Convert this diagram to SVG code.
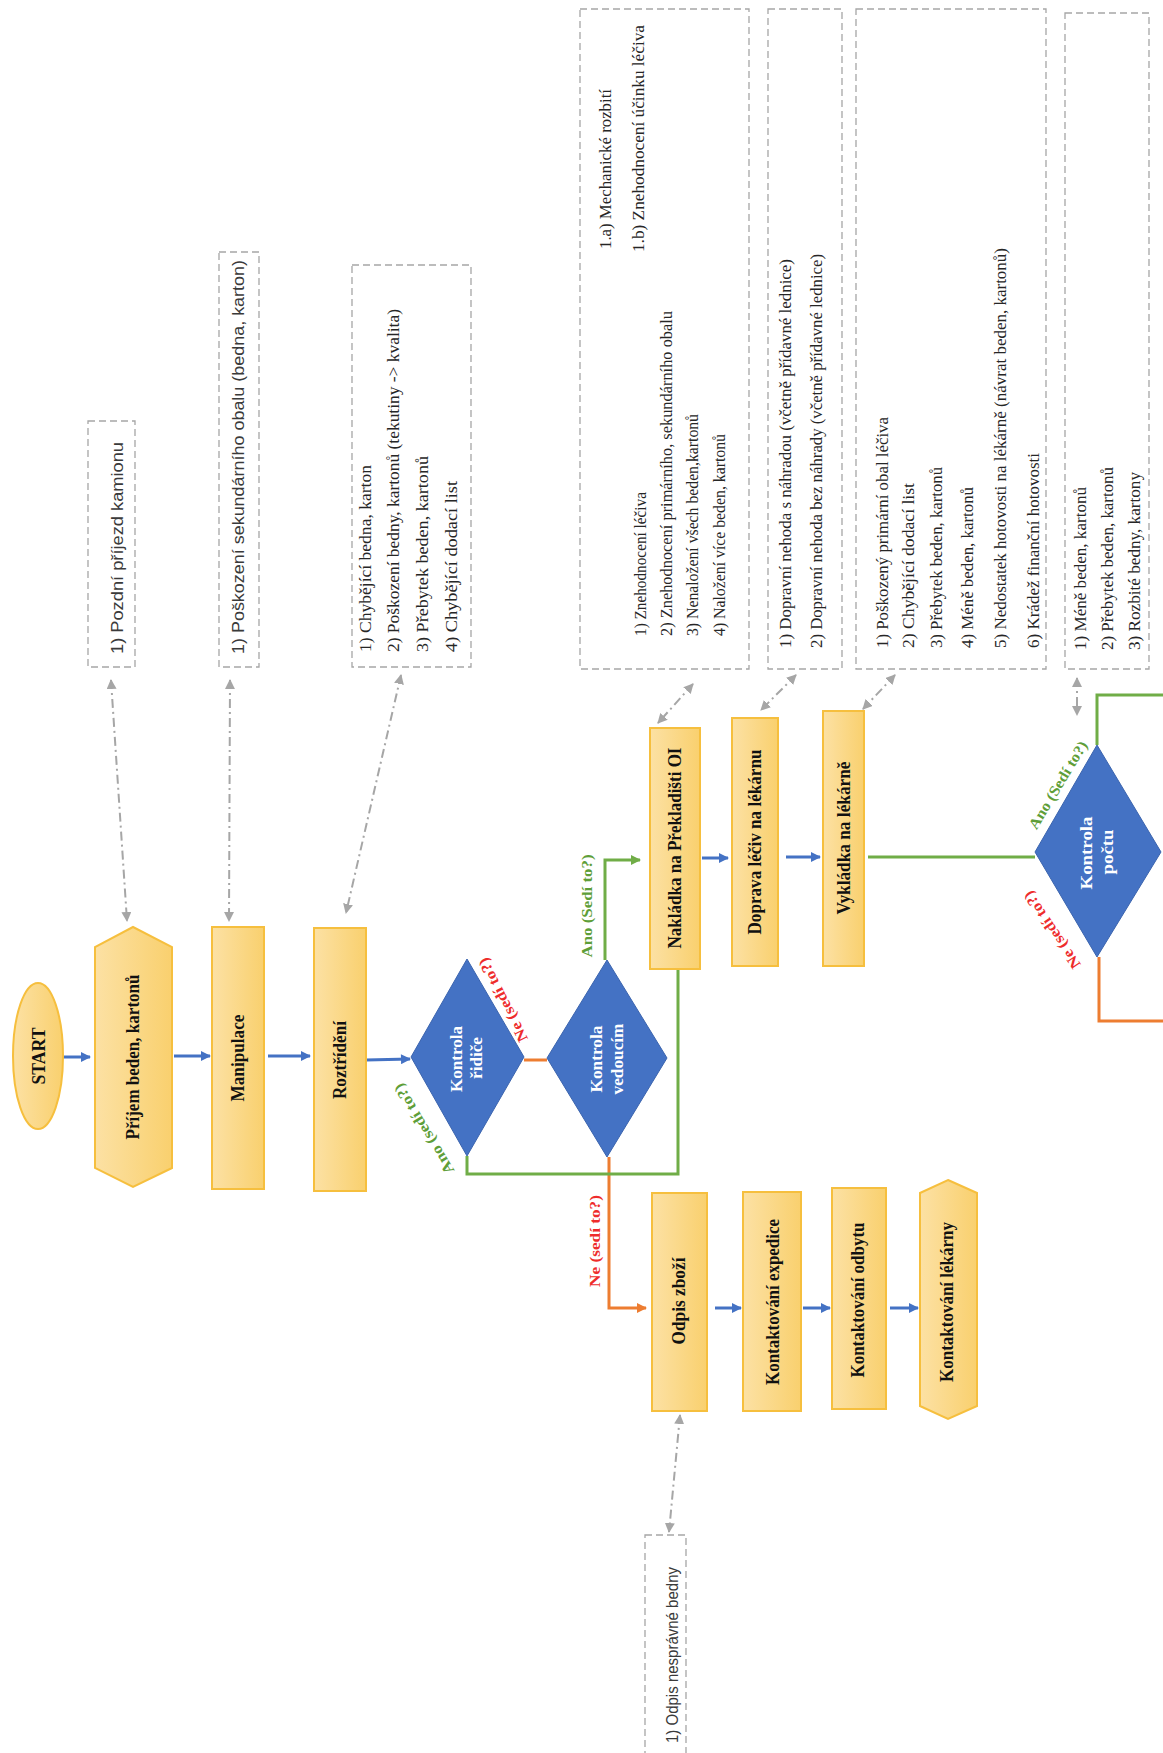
<svg xmlns="http://www.w3.org/2000/svg" width="1163" height="1753" viewBox="0 0 1163 1753">
<defs>
<linearGradient id="gy" x1="0" y1="0" x2="1" y2="0">
<stop offset="0" stop-color="#FCE1A4"/>
<stop offset="1" stop-color="#F9D06E"/>
</linearGradient>
<marker id="mb" viewBox="0 0 10 10" refX="9" refY="5" markerWidth="11" markerHeight="10" orient="auto-start-reverse" markerUnits="userSpaceOnUse"><path d="M0,0 L10,5 L0,10 z" fill="#4472C4"/></marker>
<marker id="mg" viewBox="0 0 10 10" refX="9" refY="5" markerWidth="11" markerHeight="10" orient="auto-start-reverse" markerUnits="userSpaceOnUse"><path d="M0,0 L10,5 L0,10 z" fill="#70AD47"/></marker>
<marker id="mo" viewBox="0 0 10 10" refX="9" refY="5" markerWidth="11" markerHeight="10" orient="auto-start-reverse" markerUnits="userSpaceOnUse"><path d="M0,0 L10,5 L0,10 z" fill="#ED7D31"/></marker>
<marker id="mgr" viewBox="0 0 10 10" refX="9" refY="5" markerWidth="10" markerHeight="10" orient="auto-start-reverse" markerUnits="userSpaceOnUse"><path d="M0,0 L10,5 L0,10 z" fill="#A6A6A6"/></marker>
</defs>
<style>
.nd{fill:url(#gy);stroke:#F6BF3E;stroke-width:2}
.dm{fill:#4472C4;stroke:#3B64AE;stroke-width:1}
.lb{font-family:"Liberation Serif",serif;font-weight:bold;font-size:18px;fill:#111;text-anchor:middle;dominant-baseline:central}
.wl{font-family:"Liberation Serif",serif;font-weight:bold;font-size:17px;fill:#fff;text-anchor:middle;dominant-baseline:central}
.bx{fill:none;stroke:#A6A6A6;stroke-width:1.3;stroke-dasharray:7 4}
.tx{font-family:"Liberation Serif",serif;font-size:17.5px;fill:#262626;dominant-baseline:central}
.ts{font-family:"Liberation Sans",sans-serif;font-size:16px;fill:#3a3a3a;dominant-baseline:central}
.eg{font-family:"Liberation Serif",serif;font-weight:bold;font-size:15px;fill:#5E9E38;text-anchor:middle;dominant-baseline:central}
.er{font-family:"Liberation Serif",serif;font-weight:bold;font-size:15px;fill:#EE2C2C;text-anchor:middle;dominant-baseline:central}
.cb{fill:none;stroke:#4472C4;stroke-width:3}
.cg{fill:none;stroke:#70AD47;stroke-width:3}
.co{fill:none;stroke:#ED7D31;stroke-width:3}
.cd{fill:none;stroke:#A6A6A6;stroke-width:2;stroke-dasharray:9 4 2 4}
</style>

<g id="connectors">
<line class="cb" x1="63" y1="1057" x2="90" y2="1057" marker-end="url(#mb)"/>
<line class="cb" x1="174" y1="1056" x2="210" y2="1056" marker-end="url(#mb)"/>
<line class="cb" x1="268" y1="1056" x2="310" y2="1056" marker-end="url(#mb)"/>
<line class="cb" x1="366" y1="1060" x2="410" y2="1059" marker-end="url(#mb)"/>
<line class="cb" x1="702" y1="858" x2="728" y2="858" marker-end="url(#mb)"/>
<line class="cb" x1="786" y1="857" x2="820" y2="857" marker-end="url(#mb)"/>
<line class="cb" x1="715" y1="1308" x2="741" y2="1308" marker-end="url(#mb)"/>
<line class="cb" x1="803" y1="1308" x2="830" y2="1308" marker-end="url(#mb)"/>
<line class="cb" x1="890" y1="1308" x2="918" y2="1308" marker-end="url(#mb)"/>
<line class="co" x1="524" y1="1060" x2="547" y2="1060"/>
<polyline class="co" points="609,1157 609,1308 646,1308" marker-end="url(#mo)"/>
<polyline class="co" points="1099,957 1099,1021 1163,1021"/>
<polyline class="cg" points="467,1156 467,1174 678,1174 678,969"/>
<polyline class="cg" points="605,960 605,860 640,860" marker-end="url(#mg)"/>
<line class="cg" x1="868" y1="857" x2="1035" y2="857"/>
<polyline class="cg" points="1097,745 1097,695 1163,695"/>
<line class="cd" x1="111" y1="680" x2="127" y2="921" marker-start="url(#mgr)" marker-end="url(#mgr)"/>
<line class="cd" x1="230" y1="680" x2="229" y2="921" marker-start="url(#mgr)" marker-end="url(#mgr)"/>
<line class="cd" x1="401" y1="675" x2="346" y2="913" marker-start="url(#mgr)" marker-end="url(#mgr)"/>
<line class="cd" x1="693" y1="684" x2="658" y2="723" marker-start="url(#mgr)" marker-end="url(#mgr)"/>
<line class="cd" x1="796" y1="675" x2="761" y2="710" marker-start="url(#mgr)" marker-end="url(#mgr)"/>
<line class="cd" x1="895" y1="675" x2="863" y2="709" marker-start="url(#mgr)" marker-end="url(#mgr)"/>
<line class="cd" x1="1077" y1="678" x2="1077" y2="715" marker-start="url(#mgr)" marker-end="url(#mgr)"/>
<line class="cd" x1="680" y1="1415" x2="669" y2="1532" marker-start="url(#mgr)" marker-end="url(#mgr)"/>
<text class="er" transform="translate(503,1000) rotate(-117)" textLength="92" lengthAdjust="spacingAndGlyphs">Ne (sedí to?)</text>
<text class="eg" transform="translate(424,1129) rotate(-121)" textLength="103" lengthAdjust="spacingAndGlyphs">Ano (sedí to?)</text>
<text class="eg" transform="translate(587,906) rotate(-90)" textLength="103" lengthAdjust="spacingAndGlyphs">Ano (Sedí to?)</text>
<text class="er" transform="translate(595,1241) rotate(-90)" textLength="92" lengthAdjust="spacingAndGlyphs">Ne (sedí to?)</text>
<text class="eg" transform="translate(1058,785) rotate(-59)" textLength="100" lengthAdjust="spacingAndGlyphs">Ano (Sedí to?)</text>
<text class="er" transform="translate(1052,930) rotate(-124)" textLength="90" lengthAdjust="spacingAndGlyphs">Ne (sedí to?)</text>
</g>

<g id="start">
<ellipse class="nd" cx="38" cy="1056" rx="25" ry="73"/>
<text class="lb" transform="translate(38,1056) rotate(-90)" style="font-size:19px" textLength="57" lengthAdjust="spacingAndGlyphs">START</text>
</g>
<g id="prijem">
<polygon class="nd" points="133,927 172,947 172,1168 133,1187 95,1168 95,947"/>
<text class="lb" transform="translate(133,1057) rotate(-90)" textLength="165" lengthAdjust="spacingAndGlyphs">Příjem beden, kartonů</text>
</g>
<g id="manipulace">
<rect class="nd" x="212" y="927" width="52" height="262"/>
<text class="lb" transform="translate(238,1058) rotate(-90)" textLength="87" lengthAdjust="spacingAndGlyphs">Manipulace</text>
</g>
<g id="roztrideni">
<rect class="nd" x="314" y="928" width="52" height="263"/>
<text class="lb" transform="translate(340,1060) rotate(-90)" textLength="78" lengthAdjust="spacingAndGlyphs">Roztřídění</text>
</g>
<g id="kontrola-ridice">
<polygon class="dm" points="411,1057 467,959 524,1057 467,1156"/>
<text class="wl" transform="translate(456,1059) rotate(-90)" textLength="66" lengthAdjust="spacingAndGlyphs">Kontrola</text>
<text class="wl" transform="translate(476,1058) rotate(-90)" textLength="42" lengthAdjust="spacingAndGlyphs">řidiče</text>
</g>
<g id="kontrola-vedoucim">
<polygon class="dm" points="547,1058 607,960 667,1058 607,1157"/>
<text class="wl" transform="translate(596,1059) rotate(-90)" textLength="67" lengthAdjust="spacingAndGlyphs">Kontrola</text>
<text class="wl" transform="translate(617,1059) rotate(-90)" textLength="71" lengthAdjust="spacingAndGlyphs">vedoucím</text>
</g>
<g id="nakladka">
<rect class="nd" x="650" y="728" width="50" height="241"/>
<text class="lb" transform="translate(675,848) rotate(-90)" textLength="201" lengthAdjust="spacingAndGlyphs">Nakládka na Překladišti OI</text>
</g>
<g id="doprava">
<rect class="nd" x="732" y="718" width="46" height="248"/>
<text class="lb" transform="translate(755,842) rotate(-90)" textLength="185" lengthAdjust="spacingAndGlyphs">Doprava léčiv na lékárnu</text>
</g>
<g id="vykladka">
<rect class="nd" x="823" y="711" width="41" height="255"/>
<text class="lb" transform="translate(844,838) rotate(-90)" textLength="153" lengthAdjust="spacingAndGlyphs">Vykládka na lékárně</text>
</g>
<g id="kontrola-poctu">
<polygon class="dm" points="1035,852 1097,745 1161,852 1097,957"/>
<text class="wl" transform="translate(1086,853) rotate(-90)" textLength="73" lengthAdjust="spacingAndGlyphs">Kontrola</text>
<text class="wl" transform="translate(1107,852) rotate(-90)" textLength="45" lengthAdjust="spacingAndGlyphs">počtu</text>
</g>
<g id="odpis">
<rect class="nd" x="652" y="1193" width="55" height="218"/>
<text class="lb" transform="translate(679,1301) rotate(-90)" textLength="87" lengthAdjust="spacingAndGlyphs">Odpis zboží</text>
</g>
<g id="expedice">
<rect class="nd" x="743" y="1192" width="58" height="219"/>
<text class="lb" transform="translate(773,1302) rotate(-90)" textLength="166" lengthAdjust="spacingAndGlyphs">Kontaktování expedice</text>
</g>
<g id="odbyt">
<rect class="nd" x="832" y="1188" width="54" height="221"/>
<text class="lb" transform="translate(858,1300) rotate(-90)" textLength="155" lengthAdjust="spacingAndGlyphs">Kontaktování odbytu</text>
</g>
<g id="lekarna">
<polygon class="nd" points="948,1180 977,1193 977,1406 948,1419 920,1406 920,1193"/>
<text class="lb" transform="translate(947,1302) rotate(-90)" textLength="160" lengthAdjust="spacingAndGlyphs">Kontaktování lékárny</text>
</g>

<g id="note-a">
<rect class="bx" x="88" y="421" width="47" height="246"/>
<text class="ts" transform="translate(117,654) rotate(-90)" textLength="212" lengthAdjust="spacingAndGlyphs">1) Pozdní příjezd kamionu</text>
</g>
<g id="note-b">
<rect class="bx" x="219" y="252" width="40" height="415"/>
<text class="ts" transform="translate(238,654) rotate(-90)" textLength="394" lengthAdjust="spacingAndGlyphs">1) Poškození sekundárního obalu (bedna, karton)</text>
</g>
<g id="note-c">
<rect class="bx" x="352" y="265" width="119" height="402"/>
<text class="tx" transform="translate(365,652) rotate(-90)" textLength="187" lengthAdjust="spacingAndGlyphs">1) Chybějící bedna, karton</text>
<text class="tx" transform="translate(393,652) rotate(-90)" textLength="343" lengthAdjust="spacingAndGlyphs">2) Poškození bedny, kartonů (tekutiny -&gt; kvalita)</text>
<text class="tx" transform="translate(422,652) rotate(-90)" textLength="196" lengthAdjust="spacingAndGlyphs">3) Přebytek beden, kartonů</text>
<text class="tx" transform="translate(451,652) rotate(-90)" textLength="171" lengthAdjust="spacingAndGlyphs">4) Chybějící dodací list</text>
</g>
<g id="note-d">
<rect class="bx" x="580" y="9" width="169" height="660"/>
<text class="tx" transform="translate(605,249) rotate(-90)" textLength="160" lengthAdjust="spacingAndGlyphs">1.a) Mechanické rozbití</text>
<text class="tx" transform="translate(638,252) rotate(-90)" textLength="227" lengthAdjust="spacingAndGlyphs">1.b) Znehodnocení účinku léčiva</text>
<text class="tx" transform="translate(640,636) rotate(-90)" textLength="144" lengthAdjust="spacingAndGlyphs">1) Znehodnocení léčiva</text>
<text class="tx" transform="translate(666,636) rotate(-90)" textLength="325" lengthAdjust="spacingAndGlyphs">2) Znehodnocení primárního, sekundárního obalu</text>
<text class="tx" transform="translate(692,636) rotate(-90)" textLength="222" lengthAdjust="spacingAndGlyphs">3) Nenaložení všech beden,kartonů</text>
<text class="tx" transform="translate(719,636) rotate(-90)" textLength="202" lengthAdjust="spacingAndGlyphs">4) Naložení více beden, kartonů</text>
</g>
<g id="note-e">
<rect class="bx" x="768" y="9" width="74" height="660"/>
<text class="tx" transform="translate(785,648) rotate(-90)" textLength="389" lengthAdjust="spacingAndGlyphs">1) Dopravní nehoda s náhradou (včetně přídavné lednice)</text>
<text class="tx" transform="translate(816,648) rotate(-90)" textLength="394" lengthAdjust="spacingAndGlyphs">2) Dopravní nehoda bez náhrady (včetně přídavné lednice)</text>
</g>
<g id="note-f">
<rect class="bx" x="856" y="9" width="190" height="660"/>
<text class="tx" transform="translate(882,648) rotate(-90)" textLength="231" lengthAdjust="spacingAndGlyphs">1) Poškozený primární obal léčiva</text>
<text class="tx" transform="translate(908,648) rotate(-90)" textLength="165" lengthAdjust="spacingAndGlyphs">2) Chybějící dodací list</text>
<text class="tx" transform="translate(936,648) rotate(-90)" textLength="181" lengthAdjust="spacingAndGlyphs">3) Přebytek beden, kartonů</text>
<text class="tx" transform="translate(967,648) rotate(-90)" textLength="161" lengthAdjust="spacingAndGlyphs">4) Méně beden, kartonů</text>
<text class="tx" transform="translate(1000,648) rotate(-90)" textLength="400" lengthAdjust="spacingAndGlyphs">5) Nedostatek hotovosti na lékárně (návrat beden, kartonů)</text>
<text class="tx" transform="translate(1033,648) rotate(-90)" textLength="195" lengthAdjust="spacingAndGlyphs">6) Krádež finanční hotovosti</text>
</g>
<g id="note-g">
<rect class="bx" x="1065" y="13" width="84" height="656"/>
<text class="tx" transform="translate(1080,650) rotate(-90)" textLength="163" lengthAdjust="spacingAndGlyphs">1) Méně beden, kartonů</text>
<text class="tx" transform="translate(1107,650) rotate(-90)" textLength="183" lengthAdjust="spacingAndGlyphs">2) Přebytek beden, kartonů</text>
<text class="tx" transform="translate(1134,650) rotate(-90)" textLength="178" lengthAdjust="spacingAndGlyphs">3) Rozbité bedny, kartony</text>
</g>
<g id="note-h">
<rect class="bx" x="645" y="1535" width="41" height="230"/>
<text class="ts" transform="translate(672,1743) rotate(-90)" textLength="176" lengthAdjust="spacingAndGlyphs">1) Odpis nesprávné bedny</text>
</g>
</svg>
